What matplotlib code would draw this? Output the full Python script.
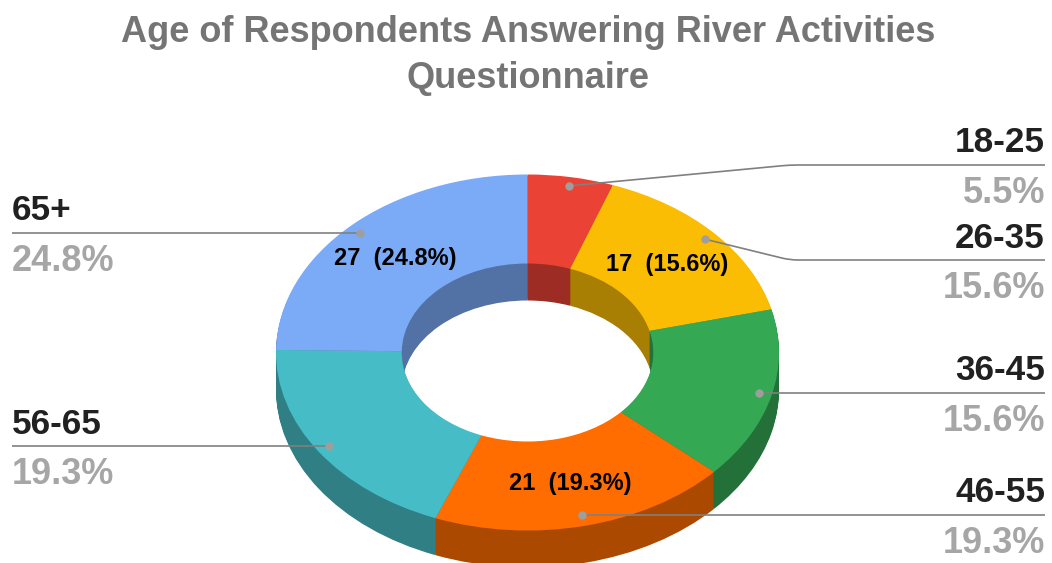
import numpy as np
import matplotlib
matplotlib.use("Agg")
import matplotlib.pyplot as plt
from matplotlib.colors import to_rgb
from matplotlib.patches import PathPatch
from matplotlib.path import Path

plt.rcParams["font.family"] = ["Liberation Sans", "DejaVu Sans"]

W, H = 1052, 563

# data
categories = ["18-25", "26-35", "36-45", "46-55", "56-65", "65+"]
counts = [6, 17, 17, 21, 21, 27]
colors = ["#ea4335", "#fbbc04", "#34a853", "#ff6d01", "#46bdc6", "#7baaf7"]
percents = ["5.5%", "15.6%", "15.6%", "19.3%", "19.3%", "24.8%"]
inside_labels = ["", "17  (15.6%)", "", "21  (19.3%)", "", "27  (24.8%)"]

# ellipse geometry in pixels
cx, cy = 527.5, 352.5
rx, ry = 251.5, 178
depth = 37
hole = 0.5

LINE = "#808080"


def darker(c, f=0.67):
    return tuple(v * f for v in to_rgb(c))


fig = plt.figure(figsize=(W / 100, H / 100), dpi=100)
ax = fig.add_axes([0, 0, 1, 1])

# side walls: stacked pie layers, bottom first
dark = [darker(c) for c in colors]
for d in range(depth, 0, -1):
    ax.pie(counts, colors=dark, startangle=90, counterclock=False,
           center=(0, -d / ry), radius=1,
           wedgeprops=dict(width=1 - hole, linewidth=0))
ax.pie(counts, colors=colors, startangle=90, counterclock=False,
       wedgeprops=dict(width=1 - hole, linewidth=0))
ax.set_aspect("auto")
ax.set_xlim((0 - cx) / rx, (W - cx) / rx)
ax.set_ylim((cy - H) / ry, cy / ry)
ax.axis("off")

# overlay in pixel coords
ov = fig.add_axes([0, 0, 1, 1], facecolor="none")
ov.set_xlim(0, W)
ov.set_ylim(H, 0)
ov.axis("off")

title_kw = dict(ha="center", va="center", fontsize=26, fontweight="bold", color="#757575")
ov.text(528, 33, "Age of Respondents Answering River Activities", **title_kw)
ov.text(528, 78, "Questionnaire", **title_kw)

# leader line routes
line_y = [165, 260, 393, 515, 446, 233]
label_x = [1045, 1045, 1045, 1045, 12, 12]
bend_x = [790, 790, None, None, None, None]

fractions = np.array(counts) / sum(counts)
mids = (np.cumsum(fractions) - fractions / 2) * 2 * np.pi
for i, cat in enumerate(categories):
    ax_x = cx + 0.95 * rx * np.sin(mids[i])
    ax_y = cy - 0.95 * ry * np.cos(mids[i])
    if bend_x[i]:
        # slanted run into the bend, rounded off, then flat to the label
        a = np.array([ax_x, ax_y])
        b = np.array([bend_x[i], line_y[i]])
        u = (b - a) / np.hypot(*(b - a))
        verts = [a, b - 8 * u, b, b + [8, 0], [label_x[i], line_y[i]]]
        codes = [Path.MOVETO, Path.LINETO, Path.CURVE3, Path.CURVE3, Path.LINETO]
        ov.add_patch(PathPatch(Path(verts, codes), fc="none", ec=LINE, lw=1.2))
    else:
        ax_y = line_y[i]
        ov.plot([ax_x, label_x[i]], [ax_y, ax_y], color=LINE, lw=1.2,
                solid_capstyle="butt")
    ov.plot([ax_x], [ax_y], "o", ms=6, color="#9e9e9e", mec="none")
    ha = "right" if label_x[i] > cx else "left"
    ov.text(label_x[i], line_y[i] - 12.5, cat, ha=ha, va="baseline", fontsize=25.3,
            fontweight="bold", color="#212121")
    ov.text(label_x[i], line_y[i] + 38, percents[i], ha=ha, va="baseline", fontsize=26,
            fontweight="bold", color="#a6a6a6")
    if inside_labels[i]:
        lx = cx + 0.75 * rx * np.sin(mids[i])
        ly = cy - 0.75 * ry * np.cos(mids[i]) + 1.5
        ov.text(lx, ly, inside_labels[i], ha="center", va="center", fontsize=17,
                fontweight="bold", color="#000000")

fig.savefig("out.png", dpi=100)
